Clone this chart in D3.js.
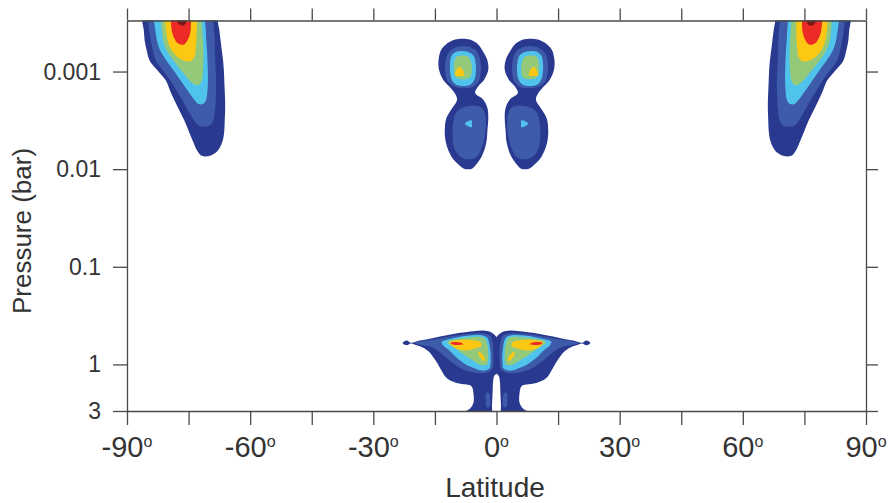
<!DOCTYPE html>
<html lang="en">
  <head>
    <meta charset="UTF-8" />
    <title>Latitude - pressure contours</title>
    <style>
      body {
        margin: 0;
        background: #fff;
      }
      svg text {
        font-family: "Liberation Sans", Arial, sans-serif;
        fill: #333;
      }
    </style>
  </head>
  <body>
    <svg id="svg" width="889" height="503"></svg>
    <script src="https://cdn.jsdelivr.net/npm/d3@7"></script>
    <script>
      // axis values
      const latTicks = [-90, -75, -60, -45, -30, -15, 0, 15, 30, 45, 60, 75, 90];
      const latLabels = [-90, -60, -30, 0, 30, 60, 90];
      const pressureTicks = [0.001, 0.01, 0.1, 1, 3];
      const pressureLabels = ["0.001", "0.01", "0.1", "1", "3"];

      // contour level colours, lowest to highest
      const levelColors = ["#29398f", "#3e5ba9", "#4fc3ec", "#94c97a", "#fcc813", "#ec2b26", "#7c1515"];

      // southern polar maximum, rows of [pressure, west lat, east lat] per level
      const polarNavy = [[0.00025, -86.3, -67.9], [0.0003, -86.3, -67.9], [0.00038, -85.9, -67.5], [0.00048, -85.7, -67.2], [0.00061, -85.2, -66.9], [0.00077, -84.5, -66.6], [0.00098, -82.5, -66.4], [0.00124, -80.5, -66.3], [0.00157, -79.5, -66.2], [0.00199, -78.4, -66.1], [0.00252, -77.2, -66.1], [0.00319, -76.0, -66.2], [0.00404, -75.0, -66.3], [0.00512, -74.0, -66.7], [0.00648, -72.9, -67.9], [0.00729, -71.8, -69.8]];
      const polarBlue = [[0.00025, -84.8, -69.0], [0.0003, -84.8, -69.0], [0.00038, -84.6, -68.8], [0.00048, -84.2, -68.6], [0.00061, -83.7, -68.6], [0.00077, -83.0, -68.5], [0.00098, -81.2, -68.4], [0.00124, -79.4, -68.3], [0.00157, -77.9, -68.3], [0.00199, -76.4, -68.4], [0.00252, -75.1, -68.6], [0.00319, -73.6, -69.0], [0.00359, -72.5, -70.0]];
      const polarLight = [[0.00025, -83.4, -71.0], [0.0003, -83.4, -71.0], [0.00038, -83.1, -70.8], [0.00048, -82.7, -70.7], [0.00061, -81.9, -70.5], [0.00077, -80.4, -70.4], [0.00098, -78.6, -70.3], [0.00124, -76.9, -70.3], [0.00157, -75.2, -70.4], [0.00199, -73.4, -70.8], [0.00215, -72.6, -71.5]];
      const polarGreen = [[0.00025, -81.7, -71.8], [0.0003, -81.7, -71.8], [0.00038, -81.5, -71.7], [0.00048, -81.2, -71.5], [0.00061, -80.3, -71.4], [0.00077, -78.7, -71.4], [0.00098, -76.7, -71.5], [0.00124, -74.7, -71.8], [0.00137, -73.4, -72.5]];
      const polarYellow = [[0.00025, -80.7, -73.0], [0.0003, -80.7, -73.0], [0.00038, -80.5, -73.0], [0.00048, -80.1, -73.1], [0.00061, -79.1, -73.3], [0.00071, -77.7, -73.6], [0.00078, -75.9, -74.4]];
      const polarRed = [[0.00025, -79.3, -74.4], [0.0003, -79.3, -74.4], [0.00038, -79.1, -74.5], [0.000445, -78.6, -74.9], [0.00051, -77.7, -75.7], [0.00053, -76.8, -76.2]];
      const polarDark = [[0.00025, -77.9, -75.5], [0.0003, -77.9, -75.5], [0.000334, -77.1, -76.0]];

      // upper equatorial pair (southern member), same row format
      const eqNavy = [[0.00047, -10.1, -6.5], [0.00053, -12.4, -4.4], [0.0006, -13.5, -3.5], [0.00075, -14.1, -2.3], [0.00096, -14.0, -2.0], [0.00121, -13.0, -3.0], [0.00141, -11.6, -4.4], [0.00166, -10.2, -5.2], [0.00194, -9.6, -3.2], [0.00237, -10.8, -2.2], [0.00299, -12.2, -2.0], [0.00395, -12.6, -2.2], [0.00541, -12.3, -2.5], [0.00741, -11.0, -3.6], [0.00902, -9.2, -5.0], [0.0099, -7.9, -6.0]];
      const eqBlueUp = [[0.000555, -9.3, -6.9], [0.000624, -11.5, -4.8], [0.000754, -12.4, -4.0], [0.001, -12.5, -3.8], [0.00127, -11.8, -4.4], [0.00145, -9.7, -6.0]];
      const eqLightUp = [[0.000624, -9.7, -7.3], [0.000686, -10.9, -5.6], [0.000809, -11.3, -5.1], [0.001, -11.3, -5.0], [0.00121, -10.9, -5.4], [0.00137, -9.7, -6.5]];
      const eqGreenUp = [[0.000702, -9.7, -7.0], [0.000809, -10.3, -6.2], [0.000955, -10.4, -6.0], [0.0011, -10.1, -6.2], [0.00118, -9.3, -6.9]];
      const eqYellowUp = [[0.0009, -9.2, -8.9], [0.00099, -9.9, -8.1], [0.00109, -10.1, -7.9]];
      const eqBlueLow = [[0.00229, -7.7, -4.0], [0.00258, -9.7, -3.0], [0.00327, -10.5, -2.6], [0.00444, -10.7, -2.8], [0.00604, -10.3, -3.6], [0.00729, -9.1, -4.6], [0.00782, -7.8, -5.7]];
      const eqLightLow = [[0.00317, -6.5, -6.0], [0.00341, -7.7, -6.0], [0.0037, -6.5, -6.0]];

      // lower "butterfly" (southern half), outlines of [lat, pressure]
      const bfNavy = [[-22.85, 0.602], [-21.88, 0.57], [-20.91, 0.6], [-19.85, 0.588], [-18.63, 0.57], [-15.39, 0.535], [-12.14, 0.503], [-8.89, 0.475], [-5.64, 0.457], [-3.21, 0.45], [-1.58, 0.464], [-0.37, 0.503], [0.45, 0.557], [0.85, 0.6], [0.85, 1.0], [0.3, 1.2], [-0.5, 1.3], [-0.8, 1.45], [-0.95, 1.96], [-1.1, 2.6], [-1.3, 3.1], [-8.0, 3.1], [-6.5, 2.85], [-5.6, 2.45], [-5.6, 2.0], [-6.05, 1.68], [-7.27, 1.61], [-9.7, 1.55], [-12.14, 1.38], [-13.76, 1.087], [-14.98, 0.893], [-16.6, 0.733], [-18.63, 0.652], [-19.85, 0.627], [-20.91, 0.61], [-21.88, 0.636]];
      const bfBlue = [[-19.85, 0.602], [-18.63, 0.582], [-15.39, 0.557], [-12.14, 0.523], [-7.27, 0.49], [-3.21, 0.483], [-1.58, 0.51], [-0.93, 0.602], [-0.77, 0.858], [-1.1, 1.13], [-2.8, 1.223], [-5.64, 1.21], [-8.08, 1.13], [-10.11, 1.004], [-12.14, 0.858], [-14.17, 0.733], [-16.2, 0.657], [-18.63, 0.627], [-19.85, 0.612]];
      const bfLegSpot = [[-2.5, 1.95], [-1.8, 1.98], [-1.55, 2.3], [-1.7, 2.7], [-2.3, 2.75], [-2.65, 2.3]];
      const bfLight = [[-13.36, 0.588], [-11.33, 0.55], [-7.27, 0.51], [-3.61, 0.503], [-2.23, 0.535], [-1.58, 0.678], [-1.42, 0.928], [-1.75, 1.11], [-3.61, 1.157], [-6.05, 1.07], [-8.08, 0.965], [-10.11, 0.826], [-11.73, 0.705], [-13.11, 0.627]];
      const bfGreen = [[-11.98, 0.588], [-9.7, 0.55], [-5.64, 0.523], [-3.04, 0.535], [-2.23, 0.627], [-1.99, 0.826], [-2.23, 0.99], [-3.61, 1.02], [-6.05, 0.893], [-8.48, 0.762], [-10.51, 0.667], [-11.73, 0.617]];
      const bfYellow = [[-11.33, 0.588], [-9.3, 0.562], [-6.45, 0.562], [-4.02, 0.588], [-3.61, 0.636], [-5.24, 0.688], [-7.67, 0.722], [-9.7, 0.688], [-10.92, 0.636]];
      const bfYellow2 = [[-4.26, 0.74], [-3.37, 0.793], [-2.8, 0.893], [-3.21, 0.928], [-4.02, 0.84], [-4.43, 0.78]];
      const bfRed = [[-11.16, 0.602], [-10.11, 0.588], [-8.48, 0.602], [-8.08, 0.622], [-9.7, 0.632], [-10.92, 0.622]];

      // rows -> closed outline: west edge going down, east edge coming back up
      function rowsToRing(rows) {
        const west = rows.map((r) => [r[1], r[0]]);
        const east = rows.map((r) => [r[2], r[0]]).reverse();
        return west.concat(east);
      }
      // the northern features are the mirror image of the southern ones
      const mirror = (ring) => ring.map((d) => [-d[0], d[1]]);

      const shapes = [
        { level: 0, ring: rowsToRing(polarNavy) },
        { level: 1, ring: rowsToRing(polarBlue) },
        { level: 2, ring: rowsToRing(polarLight) },
        { level: 3, ring: rowsToRing(polarGreen) },
        { level: 4, ring: rowsToRing(polarYellow) },
        { level: 5, ring: rowsToRing(polarRed) },
        { level: 6, ring: rowsToRing(polarDark) },
        { level: 0, ring: rowsToRing(eqNavy) },
        { level: 1, ring: rowsToRing(eqBlueUp) },
        { level: 1, ring: rowsToRing(eqBlueLow) },
        { level: 2, ring: rowsToRing(eqLightUp) },
        { level: 2, ring: rowsToRing(eqLightLow) },
        { level: 3, ring: rowsToRing(eqGreenUp) },
        { level: 4, ring: rowsToRing(eqYellowUp) },
        { level: 0, ring: bfNavy },
        { level: 1, ring: bfBlue },
        { level: 1, ring: bfLegSpot },
        { level: 2, ring: bfLight },
        { level: 3, ring: bfGreen },
        { level: 4, ring: bfYellow },
        { level: 4, ring: bfYellow2 },
        { level: 5, ring: bfRed },
      ];
      const allShapes = shapes
        .concat(shapes.map((s) => ({ level: s.level, ring: mirror(s.ring) })))
        .sort((a, b) => a.level - b.level);

      const svg = d3.select("#svg");
      const x = d3.scaleLinear().domain([-90, 90]).range([127, 866]);
      const y = d3.scaleLog().domain([0.0003, 3]).range([20.5, 411]);

      svg
        .append("clipPath")
        .attr("id", "plot-clip")
        .append("rect")
        .attr("x", x(-90))
        .attr("y", y(0.0003))
        .attr("width", x(90) - x(-90))
        .attr("height", y(3) - y(0.0003));

      const contourLine = d3
        .line()
        .x((d) => x(d[0]))
        .y((d) => y(d[1]))
        .curve(d3.curveCatmullRomClosed.alpha(0.5));

      svg
        .append("g")
        .attr("clip-path", "url(#plot-clip)")
        .selectAll("path")
        .data(allShapes)
        .enter()
        .append("path")
        .attr("d", (d) => contourLine(d.ring))
        .attr("fill", (d) => levelColors[d.level]);

      // axes
      const axisColor = "#4a4a4a";
      const axisBottomG = svg
        .append("g")
        .attr("transform", `translate(0, ${y(3)})`)
        .call(d3.axisBottom(x).tickValues(latTicks).tickSize(14).tickSizeOuter(0).tickFormat(""));
      const axisTopG = svg
        .append("g")
        .attr("transform", `translate(0, ${y(0.0003)})`)
        .call(d3.axisTop(x).tickValues(latTicks).tickSize(12).tickSizeOuter(0).tickFormat(""));
      const axisLeftG = svg
        .append("g")
        .attr("transform", `translate(${x(-90)}, 0)`)
        .call(d3.axisLeft(y).tickValues(pressureTicks).tickSize(14).tickSizeOuter(0).tickFormat(""));
      const axisRightG = svg
        .append("g")
        .attr("transform", `translate(${x(90)}, 0)`)
        .call(d3.axisRight(y).tickValues(pressureTicks).tickSize(12).tickSizeOuter(0).tickFormat(""));
      [axisBottomG, axisTopG, axisLeftG, axisRightG].forEach((g) => {
        g.selectAll("path, line").attr("stroke", axisColor).attr("stroke-width", 1.3);
      });

      // latitude labels with a small raised "o"
      const xl = svg
        .append("g")
        .selectAll("text")
        .data(latLabels)
        .enter()
        .append("text")
        .attr("x", (d) => x(d))
        .attr("y", 457)
        .attr("text-anchor", "middle")
        .style("font-size", "29px");
      xl.append("tspan").text((d) => d);
      xl.append("tspan").text("o").attr("dy", -10).style("font-size", "16px");

      svg
        .append("g")
        .selectAll("text")
        .data(pressureTicks)
        .enter()
        .append("text")
        .text((d, i) => pressureLabels[i])
        .attr("x", 101)
        .attr("y", (d) => y(d) + 8)
        .attr("text-anchor", "end")
        .style("font-size", "23px");

      svg
        .append("text")
        .text("Latitude")
        .attr("x", 495)
        .attr("y", 497)
        .attr("text-anchor", "middle")
        .style("font-size", "28px");

      svg
        .append("text")
        .text("Pressure (bar)")
        .attr("transform", "translate(31, 231) rotate(-90)")
        .attr("text-anchor", "middle")
        .style("font-size", "26px");
    </script>
  </body>
</html>
